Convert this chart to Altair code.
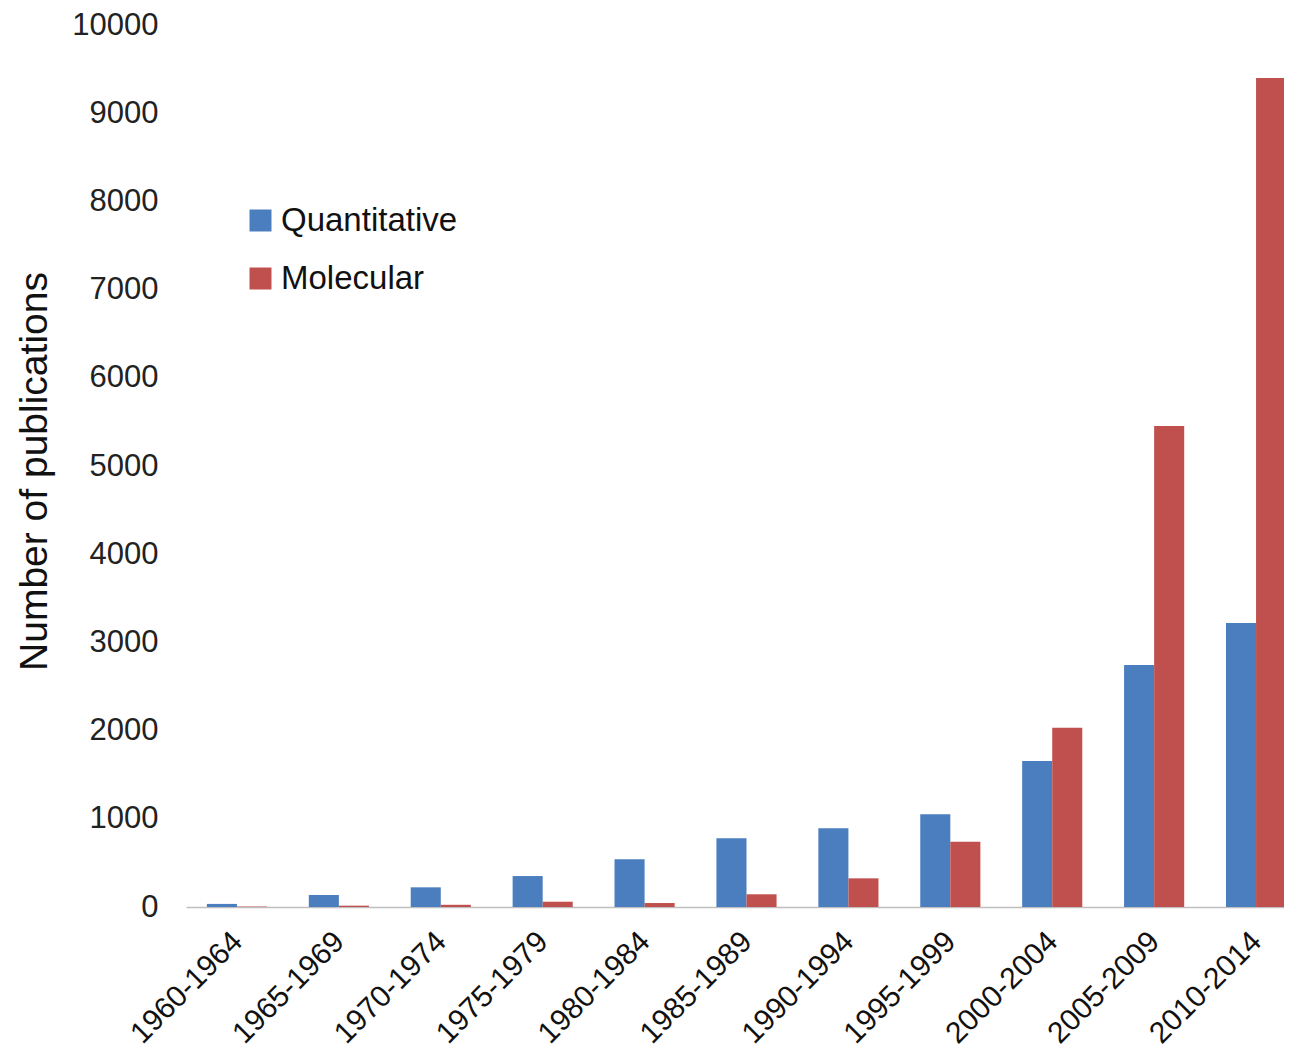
import altair as alt
import pandas as pd

periods = ["1960-1964", "1965-1969", "1970-1974", "1975-1979", "1980-1984", "1985-1989",
           "1990-1994", "1995-1999", "2000-2004", "2005-2009", "2010-2014"]
quantitative = [35, 136, 223, 351, 541, 779, 892, 1051, 1655, 2744, 3220]
molecular = [5, 15, 25, 60, 45, 144, 325, 740, 2033, 5454, 9399]
series = ["Quantitative", "Molecular"]
colors = ["#4A7EBF", "#C0504D"]
y_ticks = list(range(0, 10001, 1000))

rows = []
for p, q, m in zip(periods, quantitative, molecular):
    rows.append({"period": p, "series": "Quantitative", "value": q})
    rows.append({"period": p, "series": "Molecular", "value": m})
df = pd.DataFrame(rows)

FONT = "Liberation Sans"

chart = alt.Chart(df).mark_bar().encode(
    x=alt.X("period:N", sort=periods, title=None,
            scale=alt.Scale(paddingInner=0.41, paddingOuter=0.205, range=[2, 1123]),
            axis=alt.Axis(labelAngle=-45, labelFontSize=30, labelFont=FONT, labelColor="#111",
                          labelPadding=19, labelOffset=-10, ticks=False, tickSize=0, domain=True,
                          domainColor="#bfbfbf", domainWidth=1.5, grid=False, labelLimit=0)),
    xOffset=alt.XOffset("series:N", sort=series, scale=alt.Scale(paddingInner=0, paddingOuter=0)),
    y=alt.Y("value:Q", title="Number of publications",
            scale=alt.Scale(domain=[0, 10000], nice=False),
            axis=alt.Axis(values=y_ticks, format="d", labelFontSize=31, labelFont=FONT,
                          labelColor="#222", labelPadding=26, ticks=False, tickSize=0,
                          domain=False, grid=False, titleFontSize=39, titleFont=FONT,
                          titleFontWeight="normal", titleColor="#111", titleX=-150, titleY=446,
                          titleAngle=-90, titleAlign="center", titleBaseline="middle",
                          titleLimit=0)),
    color=alt.Color("series:N", sort=series,
                    scale=alt.Scale(domain=series, range=colors),
                    legend=alt.Legend(title=None, orient="none", legendX=60, legendY=179,
                                      symbolType="square", symbolSize=484, symbolStrokeWidth=0,
                                      labelFontSize=33, labelFont=FONT, labelColor="#111",
                                      labelOffset=4, labelLimit=0, rowPadding=24, padding=0)),
).properties(
    width=1100,
    height=882,
    autosize=alt.AutoSizeParams(type="none"),
    padding={"left": 176, "top": 17, "right": 0, "bottom": 144},
).configure_view(stroke=None)

chart.save("out.html", embed_options={"renderer": "svg", "actions": False})
